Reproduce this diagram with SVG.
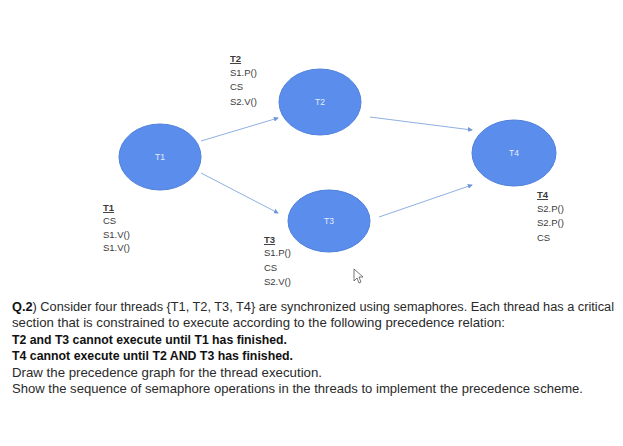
<svg xmlns="http://www.w3.org/2000/svg" width="623" height="446" viewBox="0 0 623 446">
<style>
.node{fill:#5b8dec;stroke:#4f80dc;stroke-width:1}
.nl{font-family:"Liberation Sans",Arial,sans-serif;font-size:8.5px;fill:#e6edfb;text-anchor:middle}
.lb{font-family:"Liberation Sans",Arial,sans-serif;font-size:9.5px;fill:#3a3a3a}
.hd{font-weight:bold;text-decoration:underline}
.edge{stroke:#8fb0e0;stroke-width:1;fill:none;marker-end:url(#ah)}
.p{font-family:"Liberation Sans",Arial,sans-serif;font-size:13px;fill:#2a2a2a}
.b{font-weight:bold;fill:#111}
</style>
<defs>
<marker id="ah" viewBox="0 0 6 6" refX="5" refY="3" markerWidth="5" markerHeight="5" orient="auto">
<path d="M0,0 L6,3 L0,6 z" fill="#6f96d8"/>
</marker>
</defs>
<rect width="623" height="446" fill="#ffffff"/>
<g id="connectors">
<line class="edge" x1="201" y1="141" x2="278" y2="118"/>
<line class="edge" x1="201" y1="173" x2="278" y2="213"/>
<line class="edge" x1="370" y1="117" x2="472" y2="130"/>
<line class="edge" x1="379" y1="217" x2="472" y2="185"/>
</g>
<g id="T1"><ellipse class="node" cx="160" cy="157" rx="41" ry="33"/><text class="nl" x="160" y="160">T1</text></g>
<g id="T2"><ellipse class="node" cx="320" cy="102" rx="41" ry="33"/><text class="nl" x="320" y="105">T2</text></g>
<g id="T3"><ellipse class="node" cx="329" cy="221" rx="41" ry="31"/><text class="nl" x="329" y="224">T3</text></g>
<g id="T4"><ellipse class="node" cx="514" cy="153" rx="42" ry="33"/><text class="nl" x="514" y="156">T4</text></g>
<g id="label-T2">
<text class="lb hd" x="230" y="62">T2</text>
<text class="lb" x="230" y="76">S1.P()</text>
<text class="lb" x="230" y="90">CS</text>
<text class="lb" x="230" y="105">S2.V()</text>
</g>
<g id="label-T1">
<text class="lb hd" x="103" y="211">T1</text>
<text class="lb" x="103" y="224">CS</text>
<text class="lb" x="103" y="238">S1.V()</text>
<text class="lb" x="103" y="251">S1.V()</text>
</g>
<g id="label-T3">
<text class="lb hd" x="264" y="243">T3</text>
<text class="lb" x="264" y="256">S1.P()</text>
<text class="lb" x="264" y="271">CS</text>
<text class="lb" x="264" y="285">S2.V()</text>
</g>
<g id="label-T4">
<text class="lb hd" x="537" y="198">T4</text>
<text class="lb" x="537" y="212">S2.P()</text>
<text class="lb" x="537" y="226">S2.P()</text>
<text class="lb" x="537" y="241">CS</text>
</g>
<path d="M354,269 L354,281 L357,278 L359,283 L361,282 L359,277 L363,277 Z" fill="#ffffff" stroke="#555" stroke-width="0.8"/>
<g id="question">
<text class="p" x="12" y="311" style="font-size:12px" textLength="602" lengthAdjust="spacingAndGlyphs"><tspan class="b">Q.2</tspan>) Consider four threads {T1, T2, T3, T4} are synchronized using semaphores. Each thread has a critical</text>
<text class="p" x="12" y="327" textLength="493" lengthAdjust="spacingAndGlyphs">section that is constrained to execute according to the following precedence relation:</text>
<text class="p b" x="12" y="344" textLength="275" lengthAdjust="spacingAndGlyphs">T2 and T3  cannot execute until T1 has finished.</text>
<text class="p b" x="12" y="360" textLength="281" lengthAdjust="spacingAndGlyphs">T4 cannot execute until T2 AND T3 has finished.</text>
<text class="p" x="12" y="377" textLength="310" lengthAdjust="spacingAndGlyphs">Draw the precedence graph for the thread execution.</text>
<text class="p" x="12" y="393" textLength="571" lengthAdjust="spacingAndGlyphs">Show the sequence of semaphore operations in the threads to implement the precedence scheme.</text>
</g>
</svg>
